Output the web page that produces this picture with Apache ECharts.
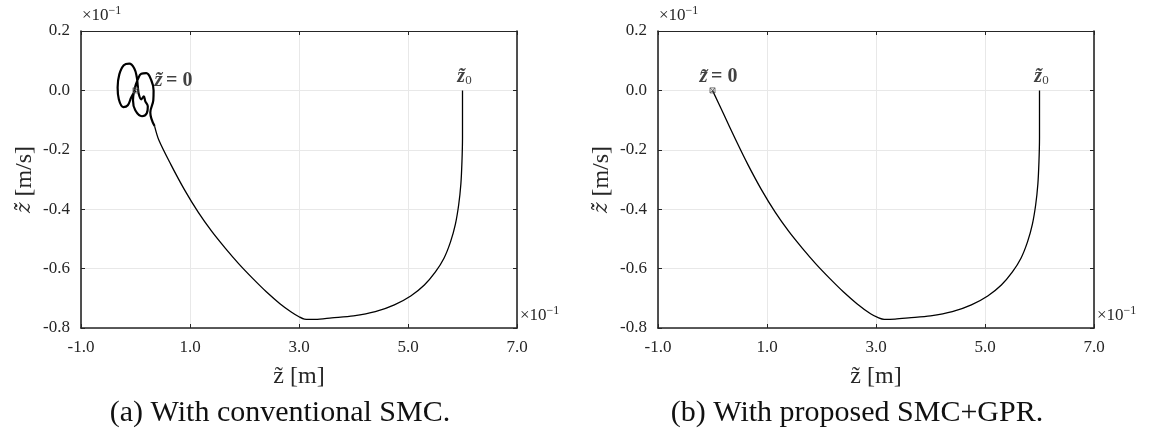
<!DOCTYPE html>
<html><head><meta charset="utf-8">
<script src="https://cdn.jsdelivr.net/npm/echarts@6/dist/echarts.min.js"></script>
<style>html,body{margin:0;padding:0;background:#fff}#c{width:1150px;height:434px}</style>
</head><body><div id="c"></div>
<script>
// values in displayed units (x10^-1)
const xMin = -1, xMax = 7, xStep = 2;
const yMin = -0.8, yMax = 0.2, yStep = 0.2;
// conventional SMC: approach from z0 to the sliding surface
const smcMainX = [6.0,6.0,6.0,5.99,5.97,5.93,5.87,5.78,5.66,5.5,5.3,5.05,4.75,4.4,4.0,3.6,3.3,3.1,3.0,2.85,2.65,2.4,2.15,1.9,1.65,1.4,1.15,0.9,0.65,0.43,0.35];
const smcMainY = [0,-0.08,-0.16,-0.24,-0.315,-0.385,-0.45,-0.51,-0.565,-0.612,-0.655,-0.692,-0.722,-0.745,-0.759,-0.766,-0.771,-0.770,-0.762,-0.745,-0.718,-0.678,-0.633,-0.585,-0.532,-0.475,-0.41,-0.335,-0.25,-0.168,-0.12];
// chattering loops near the origin (conventional SMC)
const smcLoopX = [0.35,0.272,0.327,0.332,0.290,0.198,0.106,0.042,-0.013,-0.046,-0.004,0.119,0.207,0.226,0.180,0.152,0.106,0.061,0.042,0.024,-0.022,-0.114,-0.215,-0.297,-0.328,-0.306,-0.224,-0.141,-0.077,0];
const smcLoopY = [-0.12,-0.074,-0.033,0.000,0.034,0.058,0.056,0.037,0.007,-0.033,-0.067,-0.087,-0.077,-0.054,-0.037,-0.020,-0.030,-0.013,0.014,0.044,0.074,0.090,0.085,0.054,0.010,-0.030,-0.056,-0.050,-0.023,0];
// proposed SMC+GPR
const gprX = [6.0,6.0,6.0,5.99,5.97,5.93,5.87,5.78,5.66,5.5,5.3,5.05,4.75,4.4,4.0,3.6,3.35,3.15,3.05,2.9,2.65,2.4,2.15,1.9,1.65,1.4,1.15,0.9,0.65,0.43,0.2,0];
const gprY = [0,-0.08,-0.16,-0.24,-0.315,-0.385,-0.45,-0.51,-0.565,-0.612,-0.655,-0.692,-0.722,-0.745,-0.759,-0.766,-0.770,-0.771,-0.766,-0.752,-0.718,-0.678,-0.633,-0.585,-0.532,-0.475,-0.41,-0.335,-0.25,-0.168,-0.078,0];
const originPt = [0, 0];
const startPt = [6.0, 0];
const captions = ['(a) With conventional SMC.', '(b) With proposed SMC+GPR.'];

const zip = (a, b) => a.map((v, i) => [v, b[i]]);
const FONT = 'Liberation Serif';
const AX = '#262626';
const gridsPos = [{left: 81, top: 31, width: 436, height: 297}, {left: 658, top: 31, width: 436, height: 297}];

const xAxes = [], yAxes = [];
gridsPos.forEach((g, i) => {
  xAxes.push({
    gridIndex: i, type: 'value', min: xMin, max: xMax, interval: xStep, position: 'bottom',
    axisLine: {onZero: false, lineStyle: {color: AX, width: 1.6}}, axisTick: {inside: true, length: 4, lineStyle: {color: AX}},
    axisLabel: {formatter: v => v.toFixed(1), fontFamily: FONT, fontSize: 17, color: AX, margin: 11},
    splitLine: {show: true, lineStyle: {color: '#e8e8e8', width: 1}},
    name: 'z\u0303 [m]', nameLocation: 'middle', nameGap: 37,
    nameTextStyle: {fontFamily: FONT, fontSize: 24, color: AX}
  });
  xAxes.push({
    gridIndex: i, type: 'value', min: xMin, max: xMax, interval: xStep, position: 'top',
    axisLine: {onZero: false, lineStyle: {color: AX, width: 1.2}}, axisTick: {inside: true, length: 4, lineStyle: {color: AX}},
    axisLabel: {show: false}, splitLine: {show: false}
  });
  yAxes.push({
    gridIndex: i, type: 'value', min: yMin, max: yMax, interval: yStep, position: 'left',
    axisLine: {onZero: false, lineStyle: {color: AX, width: 1.6}}, axisTick: {inside: true, length: 4, lineStyle: {color: AX}},
    axisLabel: {formatter: v => v.toFixed(1), fontFamily: FONT, fontSize: 17, color: AX, margin: 11},
    splitLine: {show: true, lineStyle: {color: '#e8e8e8', width: 1}},
    name: '{z|\u017c\u0303} [m/s]', nameLocation: 'middle', nameGap: 44, nameRotate: 90,
    nameTextStyle: {fontFamily: FONT, fontSize: 24, color: AX,
      rich: {z: {fontFamily: 'DejaVu Serif', fontStyle: 'italic', fontSize: 20, color: AX}}}
  });
  yAxes.push({
    gridIndex: i, type: 'value', min: yMin, max: yMax, interval: yStep, position: 'right',
    axisLine: {onZero: false, lineStyle: {color: AX, width: 1.6}}, axisTick: {inside: true, length: 4, lineStyle: {color: AX}},
    axisLabel: {show: false}, splitLine: {show: false}
  });
});

const crossSym = 'path://M0,0L10,10M10,0L0,10M0,0L10,0L10,10L0,10Z';
function markers(gi, zeroLabelPos, zeroOffset) {
  return [
    {type: 'scatter', xAxisIndex: gi * 2, yAxisIndex: gi * 2, data: [originPt], symbol: crossSym, symbolSize: 5,
     itemStyle: {color: 'transparent', borderColor: '#555', borderWidth: 1}, z: 5,
     label: {show: true, position: zeroLabelPos, distance: 4, offset: zeroOffset,
       formatter: '{z|z\u0303} {b|= 0}',
       rich: {z: {fontFamily: FONT, fontSize: 21, fontStyle: 'italic', fontWeight: 'bold', color: '#111'},
              b: {fontFamily: FONT, fontSize: 20, fontWeight: 'bold', color: '#111'}}}},
    {type: 'scatter', xAxisIndex: gi * 2, yAxisIndex: gi * 2, data: [startPt], symbolSize: 0, z: 5,
     label: {show: true, position: 'top', distance: 3, offset: [2, 0],
       formatter: '{z|z\u0303}{s|0}',
       rich: {z: {fontFamily: FONT, fontSize: 20, fontStyle: 'italic', fontWeight: 'bold', color: '#111'},
              s: {fontFamily: FONT, fontSize: 13, color: '#111', padding: [9, 0, 0, 0]}}}}
  ];
}

const lineCommon = {type: 'line', showSymbol: false, symbol: 'none', smooth: 0.3, lineStyle: {color: '#000', width: 1.3}, silent: true};
const series = [
  Object.assign({}, lineCommon, {xAxisIndex: 0, yAxisIndex: 0, data: zip(smcMainX, smcMainY)}),
  Object.assign({}, lineCommon, {xAxisIndex: 0, yAxisIndex: 0, data: zip(smcLoopX, smcLoopY), smooth: 0.4, lineStyle: {color: '#000', width: 2.2}}),
  Object.assign({}, lineCommon, {xAxisIndex: 2, yAxisIndex: 2, data: zip(gprX, gprY)}),
  ...markers(0, 'right', [12, -10]),
  ...markers(1, 'top', [6, 4])
];

function powLabel(x, y) {
  return {type: 'text', left: x, top: y, style: {text: '{a|\u00d710}{b|\u22121}', rich: {
    a: {fontFamily: FONT, fontSize: 17, fill: AX},
    b: {fontFamily: FONT, fontSize: 12, fill: AX, padding: [0, 0, 9, 0]}}}};
}
function caption(cx, txt) {
  return {type: 'text', x: cx, y: 398, style: {text: txt, fontFamily: FONT, fontSize: 30, fill: '#111', align: 'center', verticalAlign: 'top'}};
}
const graphic = [
  powLabel(82, 5), powLabel(659, 5), powLabel(520, 305), powLabel(1097, 305),
  caption(280, captions[0]), caption(857, captions[1])
];

const chart = echarts.init(document.getElementById('c'));
chart.setOption({
  animation: false, backgroundColor: '#fff',
  grid: gridsPos, xAxis: xAxes, yAxis: yAxes, series, graphic
});
</script></body></html>
